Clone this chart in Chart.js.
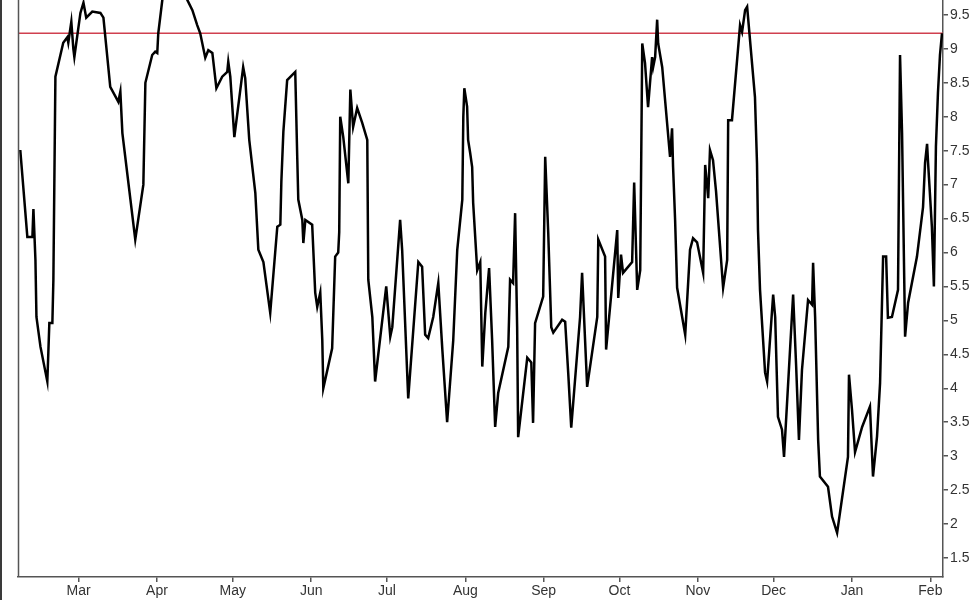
<!DOCTYPE html>
<html>
<head>
<meta charset="utf-8">
<script src="https://cdn.jsdelivr.net/npm/chart.js@4/dist/chart.umd.min.js"></script>
<style>
  html, body { margin: 0; padding: 0; background: #fff; }
  #wrap { position: relative; width: 975px; height: 600px; }
</style>
</head>
<body>
<div id="wrap"><canvas id="myChart" width="975" height="600"></canvas></div>
<script>
// days counted from 1 Mar (day 0)
var days = [
  -23.1, -20.3, -18.3, -17.9, -17.1, -16.7, -15.1, -12.4, -12.0, -11.6, -10.4, -10.0, -9.2,
  -6.1, -4.5, -4.1, -2.9, -2.1, -1.7, 0.7, 1.9, 3.0, 5.4, 8.6, 9.8, 12.5, 15.7, 16.5, 17.3,
  22.4, 25.6, 26.4, 29.1, 30.3, 31.1, 31.5, 33.1, 34.7, 38.2, 41.4, 43.0, 45.0, 46.9, 48.1,
  50.1, 51.3, 52.9, 54.5, 56.8, 58.8, 59.2, 60.0, 61.6, 65.1, 65.9, 67.5, 69.9, 71.1, 73.1,
  75.8, 78.6, 79.8, 80.2, 81.0, 82.5, 85.7, 86.5, 86.9, 88.5, 88.9, 89.7, 92.4, 93.6, 94.4,
  95.6, 96.4, 96.8, 100.3, 101.5, 102.7, 103.1, 103.5, 104.7, 106.7, 107.5, 108.6, 110.2,
  112.2, 114.2, 114.6, 116.2, 117.3, 121.7, 123.3, 124.1, 127.2, 128.0, 130.4, 134.4, 135.9,
  137.1, 138.3, 140.3, 142.3, 143.9, 145.8, 148.2, 149.8, 151.8, 152.2, 152.6, 153.7, 154.1,
  154.9, 155.7, 156.1, 157.7, 158.9, 159.7, 160.9, 162.4, 163.6, 164.8, 166.0, 170.0, 170.7,
  171.9, 172.7, 173.5, 173.9, 177.5, 179.1, 179.8, 180.6, 183.8, 184.6, 185.8, 187.0, 187.8,
  191.3, 192.5, 193.7, 194.9, 198.4, 199.2, 201.2, 205.2, 205.6, 208.3, 208.7, 213.1, 213.5,
  214.6, 215.4, 219.0, 219.8, 221.0, 222.2, 223.0, 224.1, 225.3, 226.9, 227.3, 228.1, 228.9,
  229.3, 230.9, 234.0, 234.8, 235.2, 236.0, 236.8, 240.0, 241.9, 243.1, 244.7, 247.1, 247.9,
  249.1, 249.8, 251.0, 252.2, 255.0, 256.6, 257.0, 258.5, 261.7, 262.5, 263.7, 264.5, 267.6,
  268.4, 268.8, 269.6, 271.6, 272.4, 274.8, 275.6, 276.7, 278.3, 279.1, 282.7, 283.9, 285.0,
  286.2, 288.6, 290.2, 290.6, 291.4, 292.6, 293.3, 296.5, 298.1, 300.1, 304.4, 304.8, 306.0,
  307.2, 310.0, 313.1, 314.3, 315.9, 317.1, 318.3, 319.5, 320.2, 321.8, 324.2, 325.0, 325.8,
  327.0, 328.2, 331.7, 334.1, 334.9, 335.7, 336.1, 337.6, 338.4, 339.2, 340.0, 340.8, 341.6
];
var values = [
  7.51, 6.23, 6.23, 6.64, 5.89, 5.05, 4.61, 4.10, 4.52, 4.96, 4.96, 5.60, 8.59,
  9.09, 9.17, 9.09, 9.40, 9.00, 8.88, 9.53, 9.68, 9.46, 9.55, 9.53, 9.46, 8.44, 8.22, 8.37, 7.76,
  6.19, 7.00, 8.50, 8.91, 8.96, 8.94, 9.23, 9.72, 10.0, 10.15, 9.95, 9.72, 9.57, 9.35, 9.23,
  8.87, 8.98, 8.94, 8.42, 8.59, 8.66, 8.81, 8.59, 7.70, 8.73, 8.57, 7.66, 6.88, 6.04, 5.86,
  5.11, 6.38, 6.41, 7.04, 7.78, 8.54, 8.66, 7.39, 6.78, 6.48, 6.14, 6.48, 6.41, 5.41, 5.20,
  5.41, 4.71, 4.00, 4.59, 5.94, 6.00, 6.30, 8.00, 7.70, 7.02, 8.40, 7.85, 8.13,
  7.91, 7.66, 5.60, 5.05, 4.10, 5.50, 4.76, 4.90, 6.48, 6.04, 3.85, 5.86, 5.79,
  4.79, 4.74, 5.05, 5.55, 4.57, 3.50, 4.70, 6.04, 6.78, 8.00, 8.42, 8.15, 7.66,
  7.47, 7.26, 6.73, 5.74, 5.86, 4.32, 5.11, 5.77, 4.71, 3.43, 3.93, 4.61, 5.60,
  5.55, 6.58, 4.90, 3.28, 4.45, 4.38, 3.49, 4.96, 5.35, 7.41, 6.29, 4.90, 4.82,
  5.01, 4.98, 4.23, 3.42, 5.05, 5.70, 4.02, 5.05, 6.19, 5.94, 4.57, 6.33, 5.33,
  5.97, 5.70, 5.86, 7.03, 5.45, 5.74, 9.08, 8.79, 8.14, 8.88, 8.73, 8.88, 9.43,
  9.08, 8.73, 7.41, 7.83, 7.26, 6.48, 5.48, 4.79, 6.04, 6.21, 6.15, 5.70, 7.29,
  6.80, 7.51, 7.36, 6.90, 5.48, 5.89, 7.95, 7.95, 9.35, 9.25, 9.57, 9.62, 8.29,
  7.32, 6.33, 5.45, 4.23, 4.10, 5.38, 5.05, 3.58, 3.39, 2.99, 5.38, 4.32, 3.24,
  4.27, 5.30, 5.23, 5.85, 5.05, 3.24, 2.70, 2.55, 2.11, 1.87, 2.99, 4.20, 3.68,
  3.06, 3.43, 3.73, 2.70, 3.29, 4.08, 5.94, 5.94, 5.04, 5.05, 5.45, 8.91, 7.76,
  4.76, 5.26, 5.94, 6.67, 7.32, 7.60, 7.32, 6.38, 5.50, 7.56, 8.35, 8.91, 9.23
];
var monthDays = [0, 31, 61, 92, 122, 153, 184, 214, 245, 275, 306, 337];
var monthLabels = ['Mar', 'Apr', 'May', 'Jun', 'Jul', 'Aug', 'Sep', 'Oct', 'Nov', 'Dec', 'Jan', 'Feb'];
var yTicks = [1.5, 2, 2.5, 3, 3.5, 4, 4.5, 5, 5.5, 6, 6.5, 7, 7.5, 8, 8.5, 9, 9.5];
var refLevel = 9.23;
var xRange = [-24, 342];
var yRange = [1.22, 9.72];

var points = days.map(function (d, i) { return { x: d, y: values[i] }; });

// left frame line of the plot and the dark edge of the window
var framePlugin = {
  id: 'frame',
  afterDraw: function (chart) {
    var c = chart.ctx, a = chart.chartArea;
    c.save();
    c.strokeStyle = '#555';
    c.lineWidth = 1.5;
    c.beginPath();
    c.moveTo(a.left + 0.5, a.top);
    c.lineTo(a.left + 0.5, a.bottom);
    c.stroke();
    c.fillStyle = '#3a3a3a';
    c.fillRect(0, 0, 2, chart.height);
    c.restore();
  }
};

Chart.defaults.font.family = 'Arial, "Liberation Sans", sans-serif';
Chart.defaults.font.size = 14;
Chart.defaults.color = '#333';

new Chart(document.getElementById('myChart'), {
  type: 'line',
  data: {
    datasets: [{
      data: points,
      borderColor: '#000',
      borderWidth: 2.5,
      pointRadius: 0,
      tension: 0,
      fill: false
    }, {
      data: [{ x: xRange[0], y: refLevel }, { x: xRange[1], y: refLevel }],
      borderColor: '#d0404f',
      borderWidth: 1.5,
      pointRadius: 0,
      fill: false
    }]
  },
  options: {
    responsive: false,
    animation: false,
    layout: { padding: { left: 18, top: 0, right: 0, bottom: 0 } },
    plugins: { legend: { display: false }, tooltip: { enabled: false } },
    scales: {
      x: {
        type: 'linear',
        min: xRange[0],
        max: xRange[1],
        afterBuildTicks: function (scale) {
          scale.ticks = monthDays.map(function (v) { return { value: v }; });
        },
        afterFit: function (scale) {
          scale.height = 23;
          scale.paddingLeft = 0;
          scale.paddingRight = 0;
        },
        ticks: {
          autoSkip: false,
          maxRotation: 0,
          padding: 1,
          callback: function (v, i) { return monthLabels[i]; }
        },
        grid: { drawOnChartArea: false, tickLength: 5, color: '#555', lineWidth: 1.5 },
        border: { color: '#555', width: 1.5 }
      },
      y: {
        position: 'right',
        min: yRange[0],
        max: yRange[1],
        afterBuildTicks: function (scale) {
          scale.ticks = yTicks.map(function (v) { return { value: v }; });
        },
        afterFit: function (scale) {
          scale.width = 32;
          scale.paddingTop = 0;
          scale.paddingBottom = 0;
        },
        ticks: {
          padding: 2,
          font: { size: 14 },
          callback: function (v) { return String(v); }
        },
        grid: { drawOnChartArea: false, tickLength: 5, color: '#555', lineWidth: 1.5 },
        border: { color: '#555', width: 1.5 }
      }
    }
  },
  plugins: [framePlugin]
});
</script>
</body>
</html>
